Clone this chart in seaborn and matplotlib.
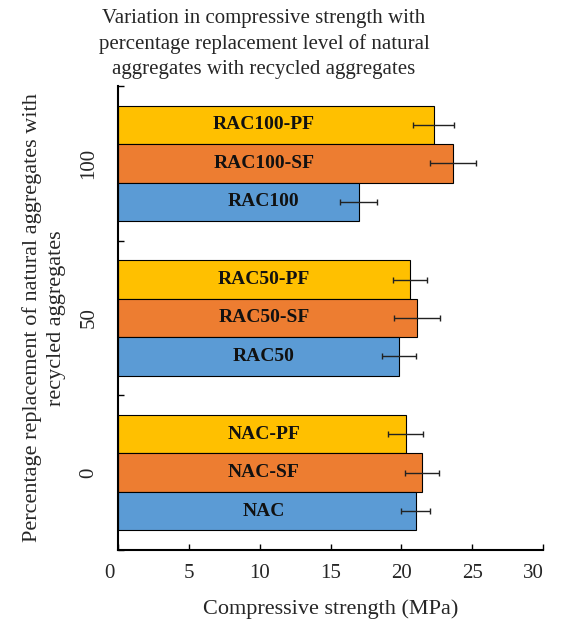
import matplotlib
matplotlib.use("Agg")
import matplotlib.pyplot as plt
import matplotlib.transforms as mtransforms
import seaborn as sns
import pandas as pd

# ---- data ----
groups = ["100", "100", "100", "50", "50", "50", "0", "0", "0"]
types = ["PF", "SF", "Plain", "PF", "SF", "Plain", "PF", "SF", "Plain"]
labels = ["RAC100-PF", "RAC100-SF", "RAC100",
          "RAC50-PF", "RAC50-SF", "RAC50",
          "NAC-PF", "NAC-SF", "NAC"]
strength = [22.3, 23.65, 17.0, 20.6, 21.1, 19.8, 20.3, 21.45, 21.0]
errors = [1.45, 1.65, 1.3, 1.2, 1.65, 1.2, 1.25, 1.2, 1.0]
group_order = ["100", "50", "0"]
type_order = ["PF", "SF", "Plain"]
colors = ["#FFC000", "#ED7D31", "#5B9BD5"]
x_ticks = [0, 5, 10, 15, 20, 25, 30]

df = pd.DataFrame({"group": groups, "type": types, "label": labels,
                   "value": strength, "err": errors})

sns.set_theme(style="white")
plt.rcParams["font.family"] = ["Liberation Serif", "DejaVu Serif"]

fig = plt.figure(figsize=(5.65, 6.28), dpi=100)
ax = fig.add_axes([118 / 565, 1 - 550 / 628, (543 - 118) / 565, (550 - 86) / 628])

sns.barplot(data=df, y="group", x="value", hue="type", order=group_order,
            hue_order=type_order, palette=colors, width=0.745,
            edgecolor="black", linewidth=0.8, errorbar=None, legend=False,
            saturation=1, ax=ax)

for t, cont in zip(type_order, ax.containers):
    for g, patch in zip(group_order, cont.patches):
        row = df[(df["group"] == g) & (df["type"] == t)].iloc[0]
        yc = patch.get_y() + patch.get_height() / 2
        ax.errorbar(row["value"], yc, xerr=row["err"], fmt="none",
                    ecolor="#222222", elinewidth=1.0, capsize=2.3,
                    capthick=1.0)
        ax.text(10.3, yc, row["label"], ha="center", va="center",
                fontsize=14, fontweight="bold", color="#111111")

ax.set_xlim(0, 30)
ax.set_xticks(x_ticks)
ax.set_xticklabels([str(v) for v in x_ticks], fontsize=15)
ax.set_ylim(2.5, -0.5)
ax.set_yticks([0, 1, 2])
ax.set_yticklabels(group_order, fontsize=15, rotation=90, va="center")
ax.set_yticks([-0.5, 0.5, 1.5, 2.5], minor=True)
ax.tick_params(axis="y", which="major", length=0, pad=14)
ax.tick_params(axis="y", which="minor", length=4, direction="in",
               width=1, color="black", left=True)
ax.tick_params(axis="x", length=4, direction="in", width=1, color="black",
               bottom=True, pad=10)

# first and last x tick labels sit slightly left of their ticks
xlabels = ax.get_xticklabels()
for lab, dx in [(xlabels[0], -9), (xlabels[-1], -10)]:
    lab.set_transform(lab.get_transform() +
                      mtransforms.ScaledTranslation(dx / 100, 0, fig.dpi_scale_trans))

for s in ["top", "right"]:
    ax.spines[s].set_visible(False)
for s in ["left", "bottom"]:
    ax.spines[s].set_color("black")
    ax.spines[s].set_linewidth(1.5)

ax.set_xlabel("Compressive strength (MPa)", fontsize=16, labelpad=12)
ax.set_ylabel("Percentage replacement of natural aggregates with\nrecycled aggregates",
              fontsize=16, labelpad=10, linespacing=1.35)

fig.text(264 / 565, 1 - 44 / 628,
         "Variation in compressive strength with\npercentage replacement level of natural\naggregates with recycled aggregates",
         ha="center", va="center", fontsize=15, linespacing=1.42)

fig.savefig("out.png", dpi=100)
